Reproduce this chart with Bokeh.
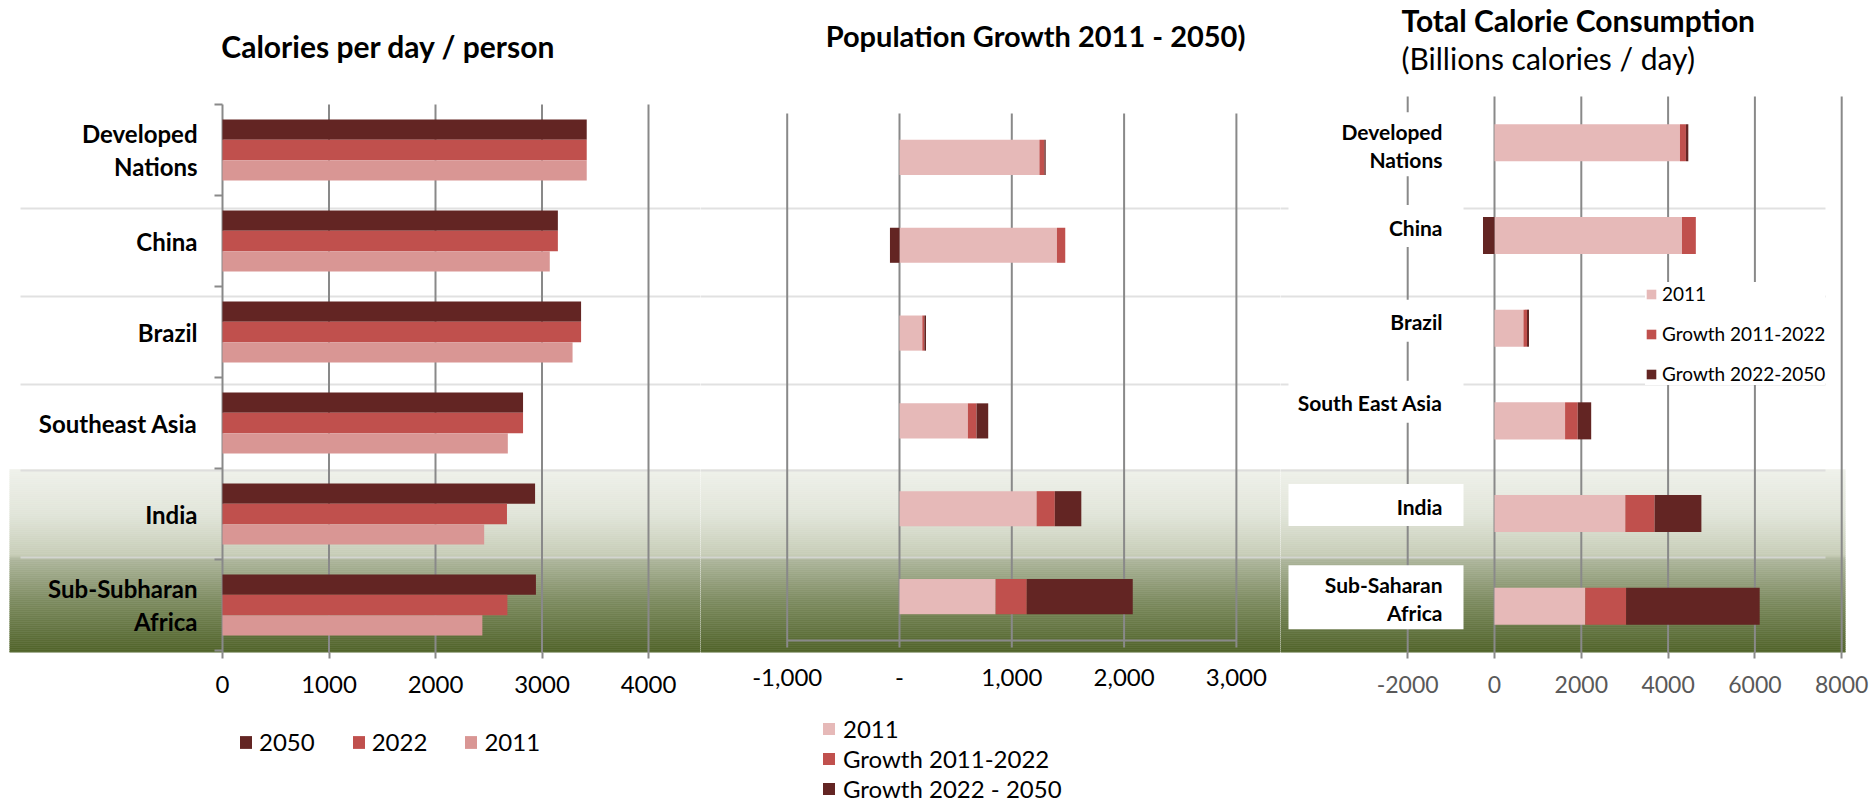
import numpy as np
from bokeh.plotting import figure
from bokeh.layouts import row, column
from bokeh.models import Range1d, FixedTicker, Legend, LegendItem
from bokeh.core.properties import value
from bokeh.embed import file_html
from bokeh.resources import INLINE

# ---------------- data ----------------
cal_regions = ["Developed\nNations", "China", "Brazil", "Southeast Asia", "India", "Sub-Subharan\nAfrica"]
cal_2011 = [3420, 3073, 3287, 2679, 2457, 2440]
cal_2022 = [3420, 3149, 3367, 2822, 2671, 2675]
cal_2050 = [3420, 3149, 3367, 2822, 2935, 2943]
cal_ticks = [0, 1000, 2000, 3000, 4000]

pop_2011 = [1246, 1402, 203, 609, 1221, 856]
pop_growth_2011_2022 = [44, 74, 18, 77, 162, 277]
pop_growth_2022_2050 = [12, -85, 15, 104, 236, 944]
pop_ticks = [-1000, 0, 1000, 2000, 3000]
pop_tick_labels = ["-1,000", "-", "1,000", "2,000", "3,000"]

tot_regions = ["Developed\nNations", "China", "Brazil", "South East Asia", "India", "Sub-Saharan\nAfrica"]
tot_2011 = [4274, 4320, 667, 1626, 3014, 2091]
tot_growth_2011_2022 = [137, 319, 82, 292, 675, 941]
tot_growth_2022_2050 = [55, -265, 46, 310, 1078, 3078]
tot_ticks = [-2000, 0, 2000, 4000, 6000, 8000]
tot_tick_labels = ["-2000", "0", "2000", "4000", "6000", "8000"]

# ---------------- styles / layout ----------------
FONT = "Lato"
W, H = 1872, 803
H_MAIN = 710
H_LEG = H - H_MAIN
FRAME_BOTTOM = 652
DARK, MID, LIGHT1, LIGHT2 = "#632523", "#c0504d", "#d99694", "#e6b9b8"
GRID = "#898989"
SEP = "#dadada"
ys = [i + 0.5 for i in range(6)]


def make_panel(fig_left, fig_right, frame_left, frame_right, zero_px, px_per_unit, row_top_px, row_h_px):
    xr = Range1d((frame_left - zero_px) / px_per_unit, (frame_right - zero_px) / px_per_unit)
    yr = Range1d((FRAME_BOTTOM - row_top_px) / row_h_px, (0 - row_top_px) / row_h_px)
    p = figure(width=fig_right - fig_left, height=H_MAIN, x_range=xr, y_range=yr,
               output_backend="svg", toolbar_location=None, y_axis_location=None,
               min_border_left=frame_left - fig_left,
               min_border_right=fig_right - frame_right, min_border_top=0,
               min_border_bottom=H_MAIN - FRAME_BOTTOM)
    p.extra_x_ranges = {"px": Range1d(frame_left, frame_right)}
    p.extra_y_ranges = {"px": Range1d(FRAME_BOTTOM, 0)}
    p.xgrid.visible = False
    p.ygrid.visible = False
    p.outline_line_color = None
    p.background_fill_color = "white"
    p.border_fill_color = "white"
    # gradient band behind the two last rows
    stops_y = [469, 515, 555, 559, 600, 652]
    stops_c = ["#eff1ea", "#e0e4d8", "#c6ccb6", "#adb59b", "#7d8b60", "#4f6228"]
    rgb = np.array([[int(c[i:i + 2], 16) for i in (1, 3, 5)] for c in stops_c], dtype=float)
    edges = np.linspace(469, 653, 93)
    mids = (edges[:-1] + edges[1:]) / 2
    cols = ["#%02x%02x%02x" % tuple(int(round(np.interp(m, stops_y, rgb[:, k]))) for k in range(3)) for m in mids]
    p.quad(left=frame_left - 2, right=frame_right + 2, top=list(edges[:-1]), bottom=list(edges[1:]),
           fill_color=cols, line_color=cols, line_width=0.5, x_range_name="px", y_range_name="px")
    # row separators
    sep_y = [208, 296, 384, 470, 557]
    p.segment(x0=20, x1=1825, y0=sep_y, y1=sep_y, line_color=SEP, line_width=2, line_alpha=0.8,
              x_range_name="px", y_range_name="px")
    ax = p.xaxis[0]
    ax.axis_line_color = None
    ax.minor_tick_line_color = None
    ax.major_tick_in = 0
    ax.major_tick_out = 6
    ax.major_tick_line_color = GRID
    ax.major_tick_line_width = 2
    ax.major_label_text_font = FONT
    ax.major_label_text_font_size = "24px"
    ax.major_label_text_color = "black"
    ax.major_label_standoff = 17
    return p


def legend_fig(width):
    # legend-only strip under an axis: its view is kept far away from the data so only the legend shows
    f = figure(width=width, height=H_LEG, x_range=Range1d(1e7, 1e7 + 1), y_range=Range1d(1e7, 1e7 + 1),
               output_backend="svg", toolbar_location=None, x_axis_location=None,
               y_axis_location=None, min_border=0)
    f.xgrid.visible = False
    f.ygrid.visible = False
    f.outline_line_color = None
    return f


def stack_lr(series_list):
    n = len(series_list[0])
    pos = [0.0] * n
    neg = [0.0] * n
    out = []
    for s in series_list:
        left, right = [], []
        for i, v in enumerate(s):
            if v >= 0:
                left.append(pos[i]); right.append(pos[i] + v); pos[i] += v
            else:
                right.append(neg[i]); left.append(neg[i] + v); neg[i] += v
        out.append((left, right))
    return out


def title(p, x, y, text, align="center", bold=True, size="30px"):
    p.text(x=[x], y=[y], text=[text], text_align=align, text_baseline="middle",
           text_font=value(FONT), text_font_style="bold" if bold else "normal",
           text_font_size=size, text_color="black", x_range_name="px", y_range_name="px")


# ---------------- panel 1: calories per person ----------------
p1 = make_panel(0, 700, 9, 700, 222, 106.5 / 1000, 104, 91)
p1.segment(x0=cal_ticks, x1=cal_ticks, y0=0, y1=7, line_color=GRID, line_width=2)
p1.segment(x0=214, x1=222, y0=list(range(7)), y1=list(range(7)), line_color=GRID, line_width=2,
           x_range_name="px")
BH = 0.223
p1.hbar(y=[c - BH for c in ys], left=0, right=cal_2050, height=BH, fill_color=DARK, line_color=None)
p1.hbar(y=ys, left=0, right=cal_2022, height=BH, fill_color=MID, line_color=None)
p1.hbar(y=[c + BH for c in ys], left=0, right=cal_2011, height=BH, fill_color=LIGHT1, line_color=None)
p1.text(x=[197] * 6, y=ys, text=cal_regions, x_range_name="px", text_align="right",
        text_baseline="middle", text_font=value(FONT), text_font_style="bold",
        text_font_size="24px", text_line_height=1.15, text_color="black")
p1.xaxis.ticker = FixedTicker(ticks=cal_ticks)
title(p1, 388, 45, "Calories per day / person")

# ---------------- panel 2: population growth ----------------
p2 = make_panel(700, 1280, 700, 1280, 899, 112.3 / 1000, 113, 87.83)
p2.segment(x0=pop_ticks, x1=pop_ticks, y0=0, y1=6.08, line_color=GRID, line_width=2)
p2.segment(x0=[pop_ticks[0]], x1=[pop_ticks[-1]], y0=6, y1=6, line_color=GRID, line_width=2)
(l1, rr1), (l2, rr2), (l3, rr3) = stack_lr([pop_2011, pop_growth_2011_2022, pop_growth_2022_2050])
p2.hbar(y=ys, left=l1, right=rr1, height=0.4, fill_color=LIGHT2, line_color=None)
p2.hbar(y=ys, left=l2, right=rr2, height=0.4, fill_color=MID, line_color=None)
p2.hbar(y=ys, left=l3, right=rr3, height=0.4, fill_color=DARK, line_color=None)
p2.xaxis.ticker = FixedTicker(ticks=pop_ticks)
p2.xaxis.major_label_overrides = {t: s for t, s in zip(pop_ticks, pop_tick_labels)}
p2.xaxis.major_tick_out = 0
p2.xaxis.major_label_standoff = 16
title(p2, 1035, 35, "Population Growth 2011 - 2050)", size="29px")

# ---------------- panel 3: total calorie consumption ----------------
ROW3 = 92.67
p3 = make_panel(1280, 1872, 1280, 1845, 1494, 43.4 / 1000, 96, ROW3)
p3.segment(x0=tot_ticks, x1=tot_ticks, y0=0, y1=7, line_color=GRID, line_width=2)
(m1, n1), (m2, n2), (m3, n3) = stack_lr([tot_2011, tot_growth_2011_2022, tot_growth_2022_2050])
s1 = p3.hbar(y=ys, left=m1, right=n1, height=0.4, fill_color=LIGHT2, line_color=None)
s2 = p3.hbar(y=ys, left=m2, right=n2, height=0.4, fill_color=MID, line_color=None)
s3 = p3.hbar(y=ys, left=m3, right=n3, height=0.4, fill_color=DARK, line_color=None)
label_shift_px = [2.5, -8.5, -6.5, -18, -7.5, -8]
label_y = [c + s / ROW3 for c, s in zip(ys, label_shift_px)]
box_y = [c + (s - 1) / ROW3 for c, s in zip(ys, label_shift_px)]
box_h = [64 if "\n" in r else 42 for r in tot_regions]
p3.rect(x=[1375.5] * 6, y=box_y, width=175, height=box_h, height_units="screen", x_range_name="px",
        fill_color="white", line_color=None)
p3.text(x=[1442] * 6, y=label_y, text=tot_regions, x_range_name="px", text_align="right",
        text_baseline="middle", text_font=value(FONT), text_font_style="bold",
        text_font_size="21px", text_line_height=1.13, text_color="black")
p3.xaxis.ticker = FixedTicker(ticks=tot_ticks)
p3.xaxis.major_label_overrides = {t: s for t, s in zip(tot_ticks, tot_tick_labels)}
p3.xaxis.major_label_text_color = "#595959"
p3.xaxis.major_label_text_font_size = "23px"
title(p3, 1401, 19, "Total Calorie Consumption", align="left")
title(p3, 1401, 57, "(Billions calories / day)", align="left", bold=False)
leg3 = Legend(items=[LegendItem(label="2011", renderers=[s1]),
                     LegendItem(label="Growth 2011-2022", renderers=[s2]),
                     LegendItem(label="Growth 2022-2050", renderers=[s3])],
              orientation="vertical", location=(365, 267), glyph_width=12, glyph_height=12,
              label_standoff=5, spacing=17, padding=10, margin=0, label_height=23,
              label_text_font=FONT, label_text_font_size="19px", label_text_color="black",
              border_line_color=None, background_fill_color="white", background_fill_alpha=1)
p3.add_layout(leg3, "center")

# ---------------- legends of panels 1 and 2 (below the axes) ----------------
g1 = legend_fig(700)
e50 = g1.hbar(y=ys, left=0, right=cal_2050, height=0.1, fill_color=DARK, line_color=None)
e22 = g1.hbar(y=ys, left=0, right=cal_2022, height=0.1, fill_color=MID, line_color=None)
e11 = g1.hbar(y=ys, left=0, right=cal_2011, height=0.1, fill_color=LIGHT1, line_color=None)
leg1 = Legend(items=[LegendItem(label="2050", renderers=[e50]), LegendItem(label="2022", renderers=[e22]),
                     LegendItem(label="2011", renderers=[e11])],
              orientation="horizontal", location=(238, 47), glyph_width=15, glyph_height=16,
              label_standoff=6, spacing=36, padding=0, margin=0, label_height=29,
              label_text_font=FONT, label_text_font_size="24px", label_text_color="black",
              border_line_color=None, background_fill_alpha=0)
g1.add_layout(leg1, "center")

g2 = legend_fig(580)
f1 = g2.hbar(y=ys, left=l1, right=rr1, height=0.1, fill_color=LIGHT2, line_color=None)
f2 = g2.hbar(y=ys, left=l2, right=rr2, height=0.1, fill_color=MID, line_color=None)
f3 = g2.hbar(y=ys, left=l3, right=rr3, height=0.1, fill_color=DARK, line_color=None)
leg2 = Legend(items=[LegendItem(label="2011", renderers=[f1]),
                     LegendItem(label="Growth 2011-2022", renderers=[f2]),
                     LegendItem(label="Growth 2022 - 2050", renderers=[f3])],
              orientation="vertical", location=(121, 0), glyph_width=15, glyph_height=15,
              label_standoff=7, spacing=1, padding=0, margin=0, label_height=29,
              label_text_font=FONT, label_text_font_size="24px", label_text_color="black",
              border_line_color=None, background_fill_alpha=0)
g2.add_layout(leg2, "center")

layout = column(row(p1, p2, p3, spacing=0), row(g1, g2, spacing=0), spacing=0)
open("out.html", "w").write(file_html(layout, INLINE))
